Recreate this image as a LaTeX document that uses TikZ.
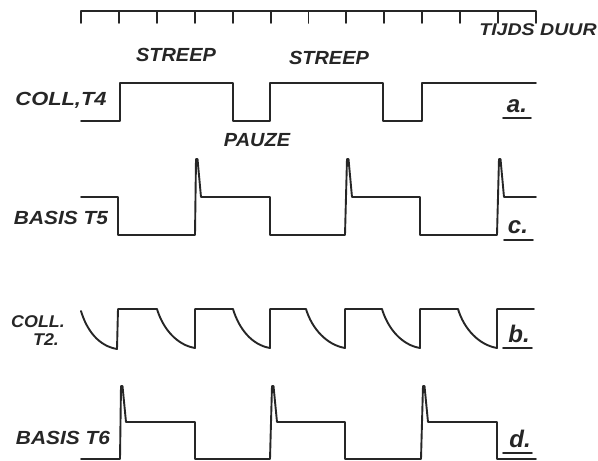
\documentclass[tikz,border=0pt]{standalone}
\usepackage{fontspec}
\newfontfamily\hand{Liberation Sans}
\begin{document}
\begin{tikzpicture}[x=1pt,y=-1pt,
  wave/.style={line width=1.9pt, line join=round, line cap=round, draw=black!85},
  lbl/.style={font=\hand\itshape\bfseries\fontsize{19}{19}\selectfont, inner sep=0pt, text=black!85},
  small/.style={font=\hand\itshape\bfseries\fontsize{17}{17}\selectfont, inner sep=0pt, text=black!85},
  tag/.style={font=\hand\itshape\bfseries\fontsize{24}{24}\selectfont, inner sep=0pt, text=black!85}]
\useasboundingbox (0,0) rectangle (598,461);
% time axis
\draw[wave] (81,23) -- (81,11) -- (536,11) -- (536,23);
\foreach \i in {1,...,11} \draw[wave] (81+\i*37.917,11) -- (81+\i*37.917,23);
\node[small, xscale=1.15] (tijd) at (538,30) {TIJDS DUUR};
% labels
\node[lbl, xscale=1.15] (coll4) at (61,100) {COLL,T4};
\node[lbl, xscale=1.05] (s1) at (176,55) {STREEP};
\node[lbl, xscale=1.05] (s2) at (329,58) {STREEP};
\node[lbl, xscale=1.05] (pauze) at (257,140) {PAUZE};
\node[lbl, xscale=1.1] (b5) at (61,218) {BASIS T5};
\node[small, xscale=1.05] (c2a) at (38,322) {COLL.};
\node[small, xscale=1.05] (c2b) at (46,340) {T2.};
\node[lbl, xscale=1.1] (b6) at (63,438) {BASIS T6};
% tags
\node[tag] (ta) at (517,106) {a.};
\draw[wave] (503,118) -- (531,118);
\node[tag] (tc) at (518,227) {c.};
\draw[wave] (504,240) -- (533,240);
\node[tag] (tb) at (519,334) {b.};
\draw[wave] (503,348) -- (532,348);
\node[tag] (td) at (520,439) {d.};
\draw[wave] (503,453) -- (532,453);
% waveform a
\draw[wave] (81,121) -- (120,121) -- (120,83) -- (233,83) -- (233,121) -- (270,121) -- (270,83) -- (383,83) -- (383,121) -- (422,121) -- (422,83) -- (536,83);
% waveform c
\draw[wave] (81,197) -- (118,197) -- (118,235) -- (195,235) -- (196,159) -- (197.5,159) -- (201,197) -- (270,197) -- (270,235) -- (345,235) -- (347,159) -- (348.5,159) -- (352,197) -- (420,197) -- (420,235) -- (497,235) -- (499,159) -- (500.5,159) -- (504,197) -- (536,197);
% waveform b
\draw[wave] (81,311) .. controls +(6,20) and +(-18,-3) .. (117,349) -- (118,309) -- (157,309)
  .. controls +(6,20) and +(-18,-3) .. (195,348) -- (195,309) -- (233,309)
  .. controls +(6,20) and +(-18,-3) .. (270,348) -- (270,309) -- (306,309)
  .. controls +(6,20) and +(-18,-3) .. (345,348) -- (345,309) -- (382,309)
  .. controls +(6,20) and +(-18,-3) .. (420,348) -- (420,309) -- (458,309)
  .. controls +(6,20) and +(-18,-3) .. (497,348) -- (497,309) -- (534,309);
% waveform d
\draw[wave] (81,459) -- (120,459) -- (121,386) -- (122.5,386) -- (126,422) -- (195,422) -- (195,459) -- (270,459) -- (272,386) -- (273.5,386) -- (277,422) -- (345,422) -- (345,459) -- (421,459) -- (423,386) -- (424.5,386) -- (428,422) -- (497,422) -- (497,459) -- (536,459);
\end{tikzpicture}
\end{document}
